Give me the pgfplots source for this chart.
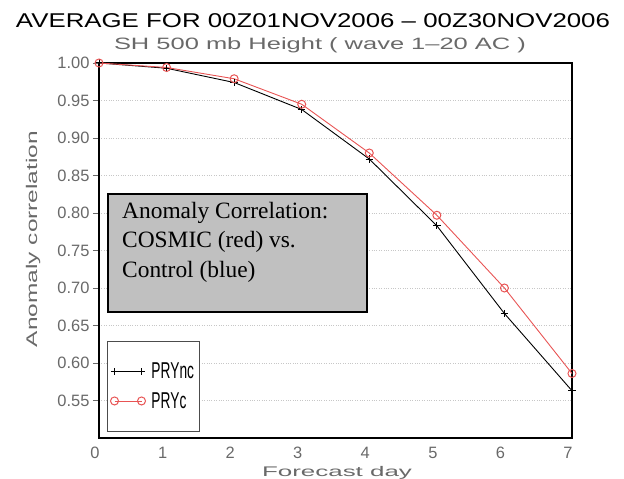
\documentclass[border=0pt]{standalone}
\usepackage{fontspec}
\setmainfont{Liberation Sans}
\newfontfamily\serif{Liberation Serif}
\usepackage{pgfplots}
\pgfplotsset{compat=1.18}
\definecolor{ared}{RGB}{232,84,84}
\definecolor{lab}{RGB}{105,105,105}
\definecolor{boxgray}{RGB}{192,192,192}

\begin{document}
\begin{tikzpicture}
\useasboundingbox (0,0) rectangle (624bp,479bp);
\begin{axis}[
  at={(99bp,41bp)}, anchor=south west,
  scale only axis, width=473bp, height=375bp,
  xmin=0, xmax=7, ymin=0.5, ymax=1.0,
  xtick={0,1,2,3,4,5,6,7},
  ytick={0.55,0.60,0.65,0.70,0.75,0.80,0.85,0.90,0.95,1.00},
  xtick style={draw=none},
  ytick pos=left, tick align=outside,
  major tick length=6bp,
  ytick style={line width=0.8pt, color=lab},
  ymajorgrids,
  grid style={dotted, line width=0.8pt, color=black!22},
  axis line style={line width=1.3pt},
  yticklabel style={font=\fontsize{16.5}{17}\selectfont, color=lab,
    /pgf/number format/.cd, fixed, fixed zerofill, precision=2, assume math mode=true},
  xticklabel style={font=\fontsize{16.5}{17}\selectfont, color=lab, xshift=-4bp,
    /pgf/number format/assume math mode=true},
  clip=false,
  legend cell align=left,
  legend style={at={(axis cs:0.12,0.508)}, anchor=south west,
    draw=black!70, line width=0.8pt, inner xsep=3bp, inner ysep=20bp,
    row sep=8bp, font=\fontsize{23}{24}\selectfont},
  legend image code/.code={\draw[#1] plot coordinates {(0bp,0bp) (27bp,0bp)};},
]
% PRYnc (control)
\addplot[black, line width=0.9pt, mark=+, mark size=3.7bp, mark options={line width=1pt}]
  coordinates {(0,1.000) (1,0.993) (2,0.974) (3,0.938) (4,0.872) (5,0.783) (6,0.666) (7,0.563)};
\addlegendentry{\hspace{4bp}\scalebox{0.6}[1]{PRYnc}\hspace{4bp}}
% PRYc (COSMIC)
\addplot[ared, line width=0.9pt, mark=o, mark size=4bp, mark options={fill=white, line width=1pt}]
  coordinates {(0,1.000) (1,0.994) (2,0.979) (3,0.945) (4,0.880) (5,0.797) (6,0.700) (7,0.586)};
\addlegendentry{\hspace{4bp}\scalebox{0.6}[1]{PRYc}}
\end{axis}

% titles
\node[anchor=base, inner sep=0] at (313bp,451bp)
  {\resizebox{594bp}{\height}{\fontsize{20}{22}\selectfont AVERAGE FOR 00Z01NOV2006 -- 00Z30NOV2006}};
\node[anchor=base, inner sep=0, color=lab] at (320bp,429bp)
  {\resizebox{412bp}{\height}{\fontsize{16.5}{18}\selectfont SH 500 mb Height ( wave 1--20 AC )}};
% axis labels
\node[anchor=base, inner sep=0, rotate=90, color=lab] at (37bp,240bp)
  {\resizebox{216bp}{\height}{\fontsize{15.5}{16}\selectfont Anomaly correlation}};
\node[anchor=base, inner sep=0, color=lab] at (337bp,3bp)
  {\resizebox{150bp}{\height}{\fontsize{14}{15}\selectfont Forecast day}};

% annotation box
\node[draw=black, line width=1.8pt, fill=boxgray, anchor=north west,
  minimum width=259bp, minimum height=118bp, inner sep=0] (ann) at (107bp,286bp) {};
\node[anchor=north west, align=left, inner sep=0, font=\serif\fontsize{23.5}{29.5}\selectfont]
  at (122bp,277bp) {Anomaly Correlation:\\COSMIC (red) vs.\\Control (blue)};
\end{tikzpicture}
\end{document}
